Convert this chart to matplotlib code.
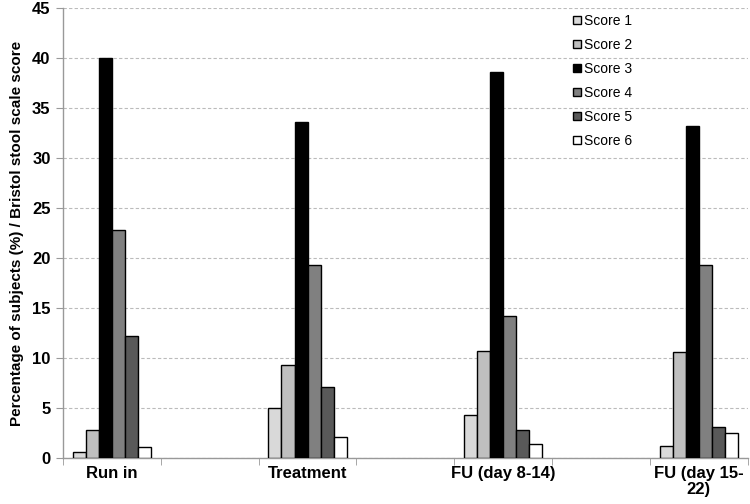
import numpy as np
import matplotlib
matplotlib.use('Agg')
import matplotlib.pyplot as plt
from matplotlib.ticker import FixedLocator, NullFormatter

# categories (empty ones are the gaps between periods)
categories = ["Run in", "", "Treatment", "", "FU (day 8-14)", "", "FU (day 15-\n22)"]
series_names = ["Score 1", "Score 2", "Score 3", "Score 4", "Score 5", "Score 6"]
nan = np.nan
score1 = [0.6, nan, 5.0, nan, 4.3, nan, 1.2]
score2 = [2.8, nan, 9.3, nan, 10.7, nan, 10.6]
score3 = [40.0, nan, 33.6, nan, 38.6, nan, 33.2]
score4 = [22.8, nan, 19.3, nan, 14.2, nan, 19.3]
score5 = [12.2, nan, 7.1, nan, 2.8, nan, 3.1]
score6 = [1.1, nan, 2.1, nan, 1.4, nan, 2.5]
colors = ["#d9d9d9", "#bfbfbf", "#000000", "#808080", "#595959", "#ffffff"]

plt.rcParams['font.family'] = ['Liberation Sans', 'DejaVu Sans']

fig = plt.figure(figsize=(7.5, 5.04), dpi=100)
ax = fig.add_axes([0.084, 0.091, 0.913, 0.893])

data = [score1, score2, score3, score4, score5, score6]
x = np.arange(len(categories))
n = len(data)
w = 0.8 / n
for i, (vals, c, name) in enumerate(zip(data, colors, series_names)):
    ax.bar(x - 0.4 + w * (i + 0.5), vals, width=w, color=c, edgecolor='black',
           linewidth=1.0, label=name, zorder=3)

ax.set_xlim(-0.5, len(categories) - 0.5)
ax.set_ylim(0, 45)
ax.set_yticks(np.arange(0, 46, 5))
ax.yaxis.grid(True, linestyle=(0, (3, 2)), color='#bbbbbb', linewidth=0.8, zorder=0)

ax.set_xticks(x)
ax.set_xticklabels(categories, fontsize=12, fontweight='bold', linespacing=1.05)
ax.tick_params(axis='x', which='major', length=0, pad=6)
ax.xaxis.set_minor_locator(FixedLocator(np.arange(-0.5, len(categories), 1.0)))
ax.xaxis.set_minor_formatter(NullFormatter())
ax.tick_params(axis='x', which='minor', length=5, color='#999999', direction='out')
ax.tick_params(axis='y', labelsize=12, length=5, color='#999999', direction='out', pad=4)
for lbl in ax.get_yticklabels():
    lbl.set_fontweight('bold')

for s in ['top', 'right']:
    ax.spines[s].set_visible(False)
for s in ['left', 'bottom']:
    ax.spines[s].set_color('#999999')
    ax.spines[s].set_linewidth(1.0)

ax.set_ylabel("Percentage of subjects (%) / Bristol stool scale score",
              fontsize=11, fontweight='bold', labelpad=6)

leg = ax.legend(loc='upper left', bbox_to_anchor=(0.737, 1.0), frameon=False,
                fontsize=10, handlelength=0.55, handleheight=0.55, handletextpad=0.2,
                labelspacing=0.72, borderaxespad=0)

fig.savefig("out.png", dpi=100)
